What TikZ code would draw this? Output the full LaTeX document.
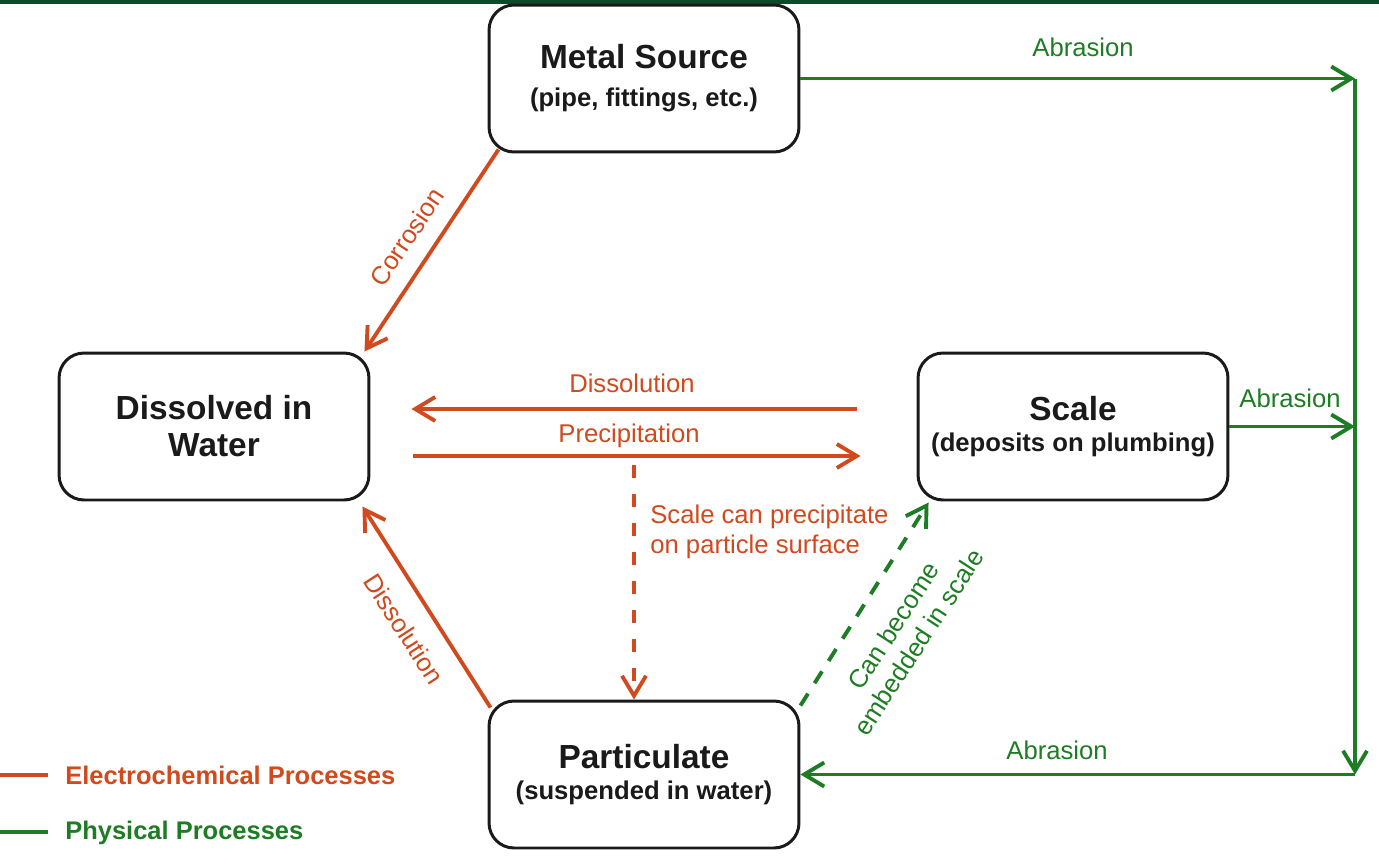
\documentclass[tikz,border=0pt]{standalone}
\usepackage{fontspec}
\setmainfont{Liberation Sans}
\usetikzlibrary{arrows.meta,calc}

\definecolor{chemred}{HTML}{D04A1E}
\definecolor{physgreen}{HTML}{1E7D24}
\definecolor{boxline}{HTML}{1A1A1A}
\definecolor{topbar}{HTML}{0D4A2A}

\tikzset{
  box/.style={draw=boxline, line width=1.7pt, rounded corners=0.5cm,
    minimum width=6.2cm, minimum height=2.94cm, align=center, text=boxline,
    font=\fontsize{14.6}{18}\selectfont\bfseries},
  flow/.style={line width=2.2pt, -{Straight Barb[length=4mm,width=4.8mm]}},
  chem/.style={flow, color=chemred},
  phys/.style={flow, color=physgreen},
  chemlabel/.style={text=chemred, inner sep=0pt, font=\fontsize{14.6}{17}\selectfont},
  physlabel/.style={text=physgreen, inner sep=0pt, font=\fontsize{14.6}{17}\selectfont},
  keytext/.style={inner sep=0pt, anchor=west, font=\fontsize{14.5}{17}\selectfont\bfseries},
}
\newcommand{\boxhead}[1]{{\fontsize{19}{18}\selectfont #1}}

\begin{document}
\begin{tikzpicture}[x=0.02cm, y=-0.02cm]
    \useasboundingbox (0,0) rectangle (1379,866);
    \fill[white] (0,0) rectangle (1379,866);
    \fill[topbar] (0,0) rectangle (1379,3.5);
    % boxes
    \node[box, font=\fontsize{14.6}{21.5}\selectfont\bfseries] (metal) at (644,78.5) {\boxhead{Metal Source}\\(pipe, fittings, etc.)};
    \node[box, font=\fontsize{19}{21}\selectfont\bfseries] (dissolved) at (214,426.5) {Dissolved in\\Water};
    \node[box] (scale) at (1073,426.5) {\boxhead{Scale}\\(deposits on plumbing)};
    \node[box] (particulate) at (644,774.5) {\boxhead{Particulate}\\(suspended in water)};
    \coordinate (precipdrop) at (634,465);
    \coordinate (abrtopcorner) at (1355,78.5);
    \coordinate (abrbotcorner) at (1355,774.5);
    % electrochemical
    \begin{scope}[chem]
      \draw ($(metal.south west)+(11,-4)$) -- ($(dissolved.north east)+(-6,0)$);
      \draw ($(particulate.north west)+(3,8)$) -- ($(dissolved.south east)+(-8,5)$);
      \draw[dash pattern=on 7.5pt off 9pt] (precipdrop) -- (precipdrop |- particulate.north);
    \end{scope}
    \begin{scope}[chem, transform canvas = {yshift = 0.35cm}]
      \draw[shorten <=1.2cm, shorten >=0.82cm] (scale) -- (dissolved);
    \end{scope}
    \begin{scope}[chem, transform canvas = {yshift = -0.59cm}]
      \draw[shorten <=0.86cm, shorten >=1.12cm] (dissolved) -- (scale);
    \end{scope}
    % physical
    \begin{scope}[phys]
      \draw (metal.east) -- (abrtopcorner);
      \draw (scale.east) -- (scale.east -| abrtopcorner);
      \draw (abrtopcorner) -- (abrbotcorner);
      \draw (abrbotcorner) -- (particulate.east);
      \draw[dash pattern=on 8pt off 7pt] ($(particulate.north east)+(0,6)$) -- ($(scale.south west)+(12,1)$);
    \end{scope}
    % labels
    \node[physlabel] (abrtop) at (1083,47) {Abrasion};
    \node[physlabel] (abrmid) at (1290,398) {Abrasion};
    \node[physlabel] (abrbot) at (1057,750) {Abrasion};
    \node[chemlabel, rotate=56] (corrlbl) at (407,237) {Corrosion};
    \node[chemlabel] (dissuplbl) at (632,383) {Dissolution};
    \node[chemlabel] (preciplbl) at (629,436) {Precipitation};
    \node[chemlabel, rotate=-57] (disslowlbl) at (404,629) {Dissolution};
    \node[chemlabel, align=left, anchor=west] (scaleprecl) at (650,531.5) {Scale can precipitate\\on particle surface};
    \node[physlabel, align=center, rotate=57] (embedlbl) at (906,634) {Can become\\embedded in scale};
    % key
    \node[keytext, text=chemred] (legchem) at (65,775) {Electrochemical Processes};
    \node[keytext, text=physgreen] (legphys) at (65,833) {Physical Processes};
    \coordinate (legchemkey) at (0,775);
    \coordinate (legphyskey) at (0,832);
    \draw[color=chemred, line width=2.2pt] (legchemkey) -- ++(48,0);
    \draw[color=physgreen, line width=2.2pt] (legphyskey) -- ++(48,0);
  \end{tikzpicture}
\end{document}
